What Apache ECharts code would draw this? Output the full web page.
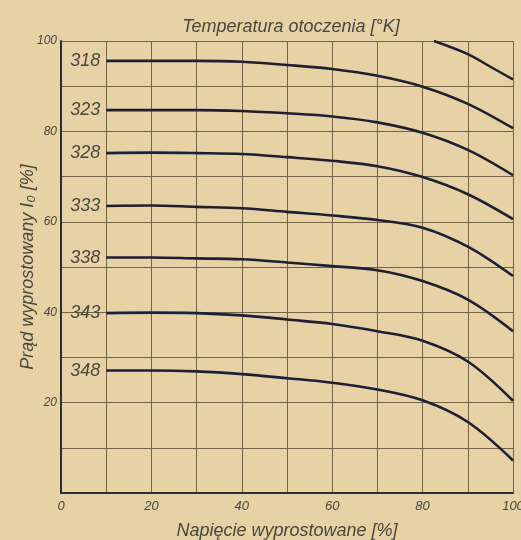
<!DOCTYPE html>
<html>
<head>
<meta charset="utf-8">
<script src="https://cdn.jsdelivr.net/npm/echarts@6/dist/echarts.min.js"></script>
<style>
html,body{margin:0;padding:0;background:#e6d2a4;}
#c{width:521px;height:540px;}
</style>
</head>
<body>
<div id="c"></div>
<script>
// Voltage (x, %) sample positions
var voltage = [10, 20, 30, 40, 50, 60, 70, 80, 90, 100];
// Ambient temperature labels (K)
var temps = ['318', '323', '328', '333', '338', '343', '348'];
// Rectified current (%) per temperature
var cur318 = [95.6, 95.6, 95.6, 95.4, 94.7, 93.8, 92.3, 89.9, 86.1, 80.7];
var cur323 = [84.7, 84.7, 84.7, 84.5, 84.0, 83.3, 82.0, 79.7, 75.9, 70.3];
var cur328 = [75.2, 75.3, 75.2, 75.0, 74.3, 73.5, 72.3, 69.9, 66.1, 60.6];
var cur333 = [63.5, 63.6, 63.3, 63.0, 62.2, 61.4, 60.4, 58.7, 54.5, 48.0];
var cur338 = [52.1, 52.1, 51.9, 51.7, 51.0, 50.2, 49.3, 46.9, 42.8, 35.8];
var cur343 = [39.8, 39.9, 39.8, 39.3, 38.4, 37.4, 35.8, 33.7, 29.1, 20.4];
var cur348 = [27.1, 27.1, 26.9, 26.3, 25.4, 24.4, 22.9, 20.5, 15.7, 7.2];
// Unlabelled top curve (clipped at 100 %)
var topVoltage = [82.5, 90, 95, 100];
var topCurrent = [100, 97.1, 94.3, 91.5];
// Tick labels
var xTicks = [0, 20, 40, 60, 80, 100];
var yTicks = [20, 40, 60, 80, 100];

var curves = [cur318, cur323, cur328, cur333, cur338, cur343, cur348];
var lineColor = '#1e1f35';
var textColor = '#4a473f';
var font = 'Liberation Sans';

function pairs(xs, ys) { return xs.map(function (x, i) { return [x, ys[i]]; }); }

var series = curves.map(function (ys, k) {
  return {
    type: 'line', name: temps[k], data: pairs(voltage, ys),
    smooth: 0.35, showSymbol: true, symbol: 'circle', symbolSize: 0.01,
    lineStyle: { color: lineColor, width: 2.6 },
    itemStyle: { color: lineColor },
    label: {
      show: true, position: 'left', distance: 6,
      color: textColor, fontFamily: font, fontStyle: 'italic', fontSize: 18,
      formatter: function (p) { return p.dataIndex === 0 ? temps[k] : ''; }
    },
    emphasis: { disabled: true }, z: 5
  };
});
series.push({
  type: 'line', data: pairs(topVoltage, topCurrent), smooth: 0.35,
  showSymbol: false, lineStyle: { color: lineColor, width: 2.4 },
  emphasis: { disabled: true }, z: 5
});

var chart = echarts.init(document.getElementById('c'));
chart.setOption({
  animation: false,
  backgroundColor: '#e6d2a4',
  title: {
    text: 'Temperatura otoczenia [°K]', left: 286, top: 13, textAlign: 'center',
    textStyle: { color: textColor, fontFamily: font, fontStyle: 'italic', fontWeight: 'normal', fontSize: 18 }
  },
  grid: { left: 61, right: 8, top: 41, bottom: 47, outerBoundsMode: 'none', containLabel: false },
  xAxis: {
    type: 'value', min: 0, max: 100, interval: 10,
    name: 'Napięcie wyprostowane [%]', nameLocation: 'middle', nameGap: 29,
    nameTextStyle: { color: textColor, fontFamily: font, fontStyle: 'italic', fontSize: 18 },
    axisLine: { show: true, lineStyle: { color: '#2b2b3c', width: 2 } },
    axisTick: { show: false },
    axisLabel: {
      color: textColor, fontFamily: font, fontStyle: 'italic', fontSize: 13, margin: 7,
      formatter: function (v) { return xTicks.indexOf(v) >= 0 ? String(v) : ''; }
    },
    splitLine: { show: true, lineStyle: { color: '#6f6449', width: 1 } }
  },
  yAxis: {
    type: 'value', min: 0, max: 100, interval: 10,
    name: 'Prąd wyprostowany I₀ [%]', nameLocation: 'middle', nameGap: 24, nameRotate: 90,
    nameMoveOverlap: false,
    nameTextStyle: { color: textColor, fontFamily: font, fontStyle: 'italic', fontSize: 18 },
    axisLine: { show: true, lineStyle: { color: '#2b2b3c', width: 2 } },
    axisTick: { show: false },
    axisLabel: {
      color: textColor, fontFamily: font, fontStyle: 'italic', fontSize: 12, margin: 4,
      formatter: function (v) { return yTicks.indexOf(v) >= 0 ? String(v) : ''; }
    },
    splitLine: { show: true, lineStyle: { color: '#6f6449', width: 1 } }
  },
  series: series
});
</script>
</body>
</html>
